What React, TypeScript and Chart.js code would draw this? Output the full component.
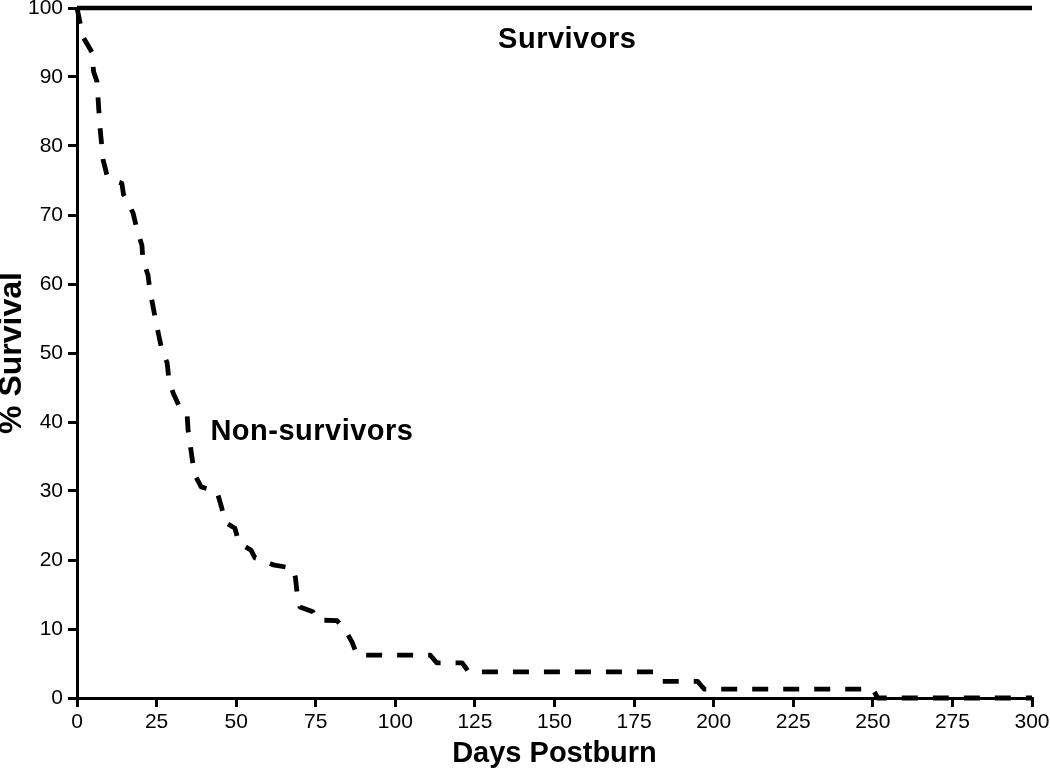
import React, { useEffect, useRef } from "react";
import { Chart, registerables } from "chart.js";

Chart.register(...registerables);

// ---- Data ----
const survivorDays = [0, 300];
const survivorPct = [100, 100];

const nonSurvivorDays = [
  0, 0.9, 1.9, 4.7, 5.2, 6.3, 6.6, 7.2, 8.2, 9.4, 11.5, 14.1, 14.6, 17.6, 18.9,
  20.4, 20.7, 22.3, 22.9, 23.9, 24.8, 25.8, 26.7, 28.3, 28.9, 30.2, 32.4, 34.6,
  34.9, 36.4, 37.4, 39.0, 44.0, 45.5, 46.5, 49.6, 50.9, 54.7, 55.9, 57.5, 61.6,
  67.8, 68.6, 69.1, 70.0, 74.1, 75.6, 81.7, 84.2, 86.4, 88.0, 111.0, 113.0,
  121.0, 123.0, 181.0, 183.0, 195.0, 197.0, 250.0, 251.5, 300.0,
];
const nonSurvivorPct = [
  100, 98, 95.8, 93.6, 90.8, 89.3, 87, 82.8, 78, 75.8, 75, 74.6, 73, 70.3, 67.8,
  65.6, 63.5, 61.3, 59.1, 56.7, 54.5, 52.3, 50.4, 48.6, 46.1, 44.2, 42, 41,
  38.8, 34, 32, 30.6, 29.9, 27.5, 25.5, 24.6, 22.5, 21.4, 20.3, 20.1, 19.3,
  18.8, 17.5, 15.4, 13.2, 12.5, 11.3, 11.2, 9.9, 8.1, 6.2, 6.2, 5.1,
  5.1, 3.8, 3.8, 2.4, 2.4, 1.3, 1.3, 0, 0,
];

const xTickValues = [0, 25, 50, 75, 100, 125, 150, 175, 200, 225, 250, 275, 300];
const yTickValues = [0, 10, 20, 30, 40, 50, 60, 70, 80, 90, 100];

const curveLabelTexts = ["Survivors", "Non-survivors"];
const curveLabelDays = [154, 73.8];
const curveLabelPct = [95.4, 38.5];

const FONT = '"Liberation Sans", Arial, Helvetica, sans-serif';

const curveLabelPlugin = {
  id: "curveLabels",
  afterDatasetsDraw(chart: any) {
    const { ctx, scales } = chart;
    const xs = scales.x;
    const ys = scales.y;
    ctx.save();
    ctx.font = `bold 29px ${FONT}`;
    try {
      (ctx as any).letterSpacing = "0.5px";
    } catch (e) {}
    ctx.fillStyle = "#000";
    ctx.textAlign = "center";
    ctx.textBaseline = "middle";
    curveLabelTexts.forEach((t, i) => {
      ctx.fillText(t, xs.getPixelForValue(curveLabelDays[i]), ys.getPixelForValue(curveLabelPct[i]));
    });
    ctx.restore();
  },
};

export default function App() {
  const canvasRef = useRef<HTMLCanvasElement | null>(null);

  useEffect(() => {
    if (!canvasRef.current) return;
    const chart = new Chart(canvasRef.current, {
      type: "line",
      data: {
        datasets: [
          {
            label: "Survivors",
            data: survivorDays.map((d, i) => ({ x: d, y: survivorPct[i] })),
            borderColor: "#000",
            borderWidth: 4.5,
            pointRadius: 0,
            tension: 0,
            fill: false,
            clip: false as any,
          },
          {
            label: "Non-survivors",
            data: nonSurvivorDays.map((d, i) => ({ x: d, y: nonSurvivorPct[i] })),
            borderColor: "#000",
            borderWidth: 4.8,
            borderDash: [16, 15],
            borderCapStyle: "butt",
            borderJoinStyle: "round",
            pointRadius: 0,
            tension: 0,
            fill: false,
            clip: false as any,
          },
        ],
      },
      options: {
        responsive: false,
        animation: false,
        events: [],
        layout: { padding: { top: 8, right: 18, left: 0, bottom: 0 } },
        plugins: {
          legend: { display: false },
          tooltip: { enabled: false },
        },
        scales: {
          x: {
            type: "linear",
            min: 0,
            max: 300,
            afterBuildTicks: (s: any) => {
              s.ticks = xTickValues.map((v) => ({ value: v }));
            },
            afterFit: (s: any) => {
              s.height = 74;
              s.paddingLeft = 0;
              s.paddingRight = 0;
            },
            ticks: {
              autoSkip: false,
              maxRotation: 0,
              color: "#000",
              padding: 3,
              font: { family: FONT, size: 21 },
            },
            grid: {
              display: true,
              drawOnChartArea: false,
              drawTicks: true,
              tickLength: 9,
              color: "#000",
              lineWidth: 3,
            },
            border: { display: true, color: "#000", width: 3 },
            title: {
              display: true,
              text: "Days Postburn",
              color: "#000",
              font: { family: FONT, size: 29, weight: "bold", lineHeight: 1 },
              padding: { top: 0, bottom: 4 },
            },
          },
          y: {
            type: "linear",
            min: 0,
            max: 100,
            afterBuildTicks: (s: any) => {
              s.ticks = yTickValues.map((v) => ({ value: v }));
            },
            afterFit: (s: any) => {
              s.width = 77;
              s.paddingTop = 0;
              s.paddingBottom = 0;
            },
            ticks: {
              autoSkip: false,
              color: "#000",
              padding: 5,
              font: { family: FONT, size: 21 },
            },
            grid: {
              display: true,
              drawOnChartArea: false,
              drawTicks: true,
              tickLength: 9,
              color: "#000",
              lineWidth: 3,
            },
            border: { display: true, color: "#000", width: 3 },
            title: {
              display: true,
              text: "% Survival",
              color: "#000",
              font: { family: FONT, size: 32, weight: "bold", lineHeight: 1 },
              padding: { top: -3.5, bottom: 0 },
            },
          },
        },
      } as any,
      plugins: [curveLabelPlugin],
    });
    return () => chart.destroy();
  }, []);

  return (
    <div style={{ position: "absolute", left: 0, top: 0, width: 1050, height: 772, background: "#fff" }}>
      <canvas
        ref={canvasRef}
        width={1050}
        height={772}
        style={{ display: "block", width: 1050, height: 772 }}
      />
    </div>
  );
}
